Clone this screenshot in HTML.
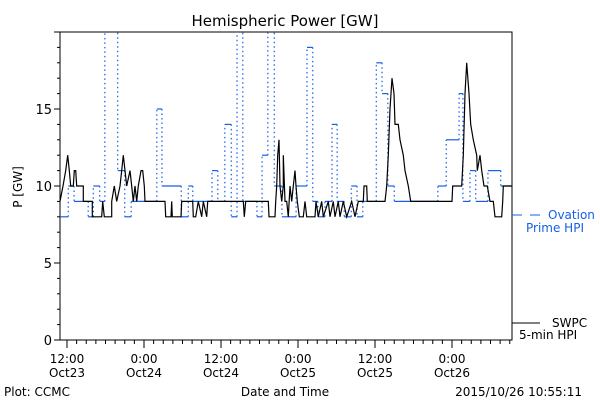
<!DOCTYPE html>
<html><head><meta charset="utf-8"><style>
body{margin:0;background:#fff;width:600px;height:400px;overflow:hidden}
svg{font-family:"DejaVu Sans","Liberation Sans",sans-serif}
</style></head><body>
<svg id="chart" width="600" height="400" viewBox="0 0 600 400" xmlns="http://www.w3.org/2000/svg">
<text x="285" y="26" font-size="15" text-anchor="middle">Hemispheric Power [GW]</text>
<text transform="translate(22,187) rotate(-90)" font-size="12" text-anchor="middle">P [GW]</text>
<text x="285" y="396" font-size="12" text-anchor="middle">Date and Time</text>
<text x="4" y="396" font-size="12">Plot: CCMC</text>
<text x="582" y="396" font-size="12" text-anchor="end">2015/10/26 10:55:11</text>
<g id="axes"></g>
<g id="series"></g>
<g>
<line x1="512" y1="215" x2="522" y2="215" stroke="#1560e8" stroke-width="1"/>
<line x1="530" y1="215" x2="540" y2="215" stroke="#1560e8" stroke-width="1"/>
<text x="548" y="219" font-size="12" fill="#1560e8">Ovation</text>
<text x="526" y="232" font-size="12" fill="#1560e8">Prime HPI</text>
</g>
<g>
<line x1="512" y1="323" x2="540" y2="323" stroke="#000" stroke-width="1"/>
<text x="552" y="327" font-size="12">SWPC</text>
<text x="519" y="339" font-size="12">5-min HPI</text>
</g>
</svg>
<script>
// time in hours since 2015-10-23 00:00
const xDomain = [10.91, 81.35];
const yDomain = [0, 20];
const yTicks = [0, 5, 10, 15];
const xTickHours = [12, 24, 36, 48, 60, 72];
const xTickLines1 = ["12:00", "0:00", "12:00", "0:00", "12:00", "0:00"];
const xTickLines2 = ["Oct23", "Oct24", "Oct24", "Oct25", "Oct25", "Oct26"];
const ovationTimes = [10.9,12.2,13.1,15.3,16.1,17.1,17.9,19.9,21.0,22.0,26.0,26.8,29.8,30.9,31.6,34.6,35.5,36.6,37.6,38.5,39.4,41.6,42.4,43.3,44.3,45.5,47.7,49.4,50.3,51.1,52.2,53.3,54.1,55.2,56.3,57.2,58.1,60.2,61.1,62.0,63.0,63.9,69.8,71.1,73.1,73.7,74.8,75.7,77.6,79.6];
const ovationValues = [8,10,9,8,10,9,22,11,8,9,15,10,8,10,9,11,9,14,8,22,9,8,12,22,10,8,10,19,9,8,9,14,9,8,10,8,9,18,16,10,9,9,10,13,16,9,11,9,11,10];
const swpcTimes = [10.91,11.38,11.80,12.11,12.36,12.58,12.98,13.14,13.36,13.51,14.54,14.54,15.94,15.94,17.41,17.56,17.81,18.97,18.97,19.37,19.75,20.26,20.52,20.77,21.04,21.30,21.82,22.08,22.33,22.60,22.86,23.11,23.53,23.80,24.05,24.16,27.27,27.38,28.21,28.32,28.41,29.77,29.88,31.59,31.68,32.06,32.46,32.99,33.24,33.77,33.93,39.47,39.63,39.85,43.37,43.48,44.41,44.52,44.68,44.83,45.04,45.19,45.46,45.71,45.71,45.97,46.24,46.49,46.75,47.02,47.26,47.53,47.69,47.89,48.20,48.82,49.09,49.35,50.65,50.80,51.16,51.69,51.94,52.72,52.98,53.50,53.76,54.28,54.54,55.06,55.59,56.37,56.88,57.40,58.18,58.28,58.71,58.80,61.56,61.82,62.07,62.34,62.65,62.96,63.11,63.63,63.89,64.41,64.67,65.19,65.56,72.00,72.11,73.51,73.76,74.02,74.29,74.65,74.91,75.32,75.85,75.94,76.36,76.63,76.98,77.50,77.92,78.43,78.70,79.74,79.90,79.99,81.35];
const swpcValues = [9,10,11,12,11,10,10,11,11,10,10,9,9,8,8,9,8,8,9,10,9,10,11,12,11,10,11,10,9,10,9,10,11,11,10,9,9,8,8,9,8,8,9,9,8,8,9,8,9,8,9,9,8,9,9,8,8,9,10,12,13,10,9,10,12,9,9,8,10,9,10,11,10,9,8,8,9,8,8,9,8,9,8,9,8,9,8,9,8,9,8,9,8,9,9,10,10,9,9,10,12,15,17,16,14,14,13,12,11,10,9,9,10,10,12,16,18,16,14,13,12,11,12,11,10,10,9,9,8,8,9,10,10];

const L=60,R=512,T=32,B=340;
const xs=t=>L+(t-xDomain[0])/(xDomain[1]-xDomain[0])*(R-L);
const ys=v=>B-(v-yDomain[0])/(yDomain[1]-yDomain[0])*(B-T);
const NS="http://www.w3.org/2000/svg";
function mk(tag,attrs,parent){const e=document.createElementNS(NS,tag);for(const k in attrs)e.setAttribute(k,attrs[k]);parent.appendChild(e);return e;}
const axes=document.getElementById('axes'), series=document.getElementById('series');

const frame=mk('rect',{x:L,y:T,width:R-L,height:B-T,fill:'none',stroke:'#000','stroke-width':1},axes);


for(let v=0;v<=20;v++){
  const tk=mk('line',{x1:L,x2:L-(v%5===0?6:3),y1:ys(v),y2:ys(v),stroke:'#000'},axes);
  
  
}
yTicks.forEach(v=>{
  const tx=mk('text',{x:L-8,y:ys(v)+5,'font-size':13,'text-anchor':'end'},axes);
  tx.textContent=v;
  
  
});
for(let h=Math.ceil(xDomain[0]/1.5)*1.5;h<=xDomain[1];h+=1.5){
  const major=Math.abs(h%12)<1e-6;
  const tk=mk('line',{x1:xs(h),x2:xs(h),y1:B,y2:B+(major?8:4),stroke:'#000'},axes);
  
  
}
xTickHours.forEach((h,i)=>{
  const t1=mk('text',{x:xs(h),y:363,'font-size':12,'text-anchor':'middle'},axes);
  t1.textContent=xTickLines1[i];
  
  
  const t2=mk('text',{x:xs(h),y:377,'font-size':12,'text-anchor':'middle'},axes);
  t2.textContent=xTickLines2[i];
  
  
});

const clip=mk('clipPath',{id:'pc'},series);
mk('rect',{x:L,y:T,width:R-L,height:B-T},clip);
const g=mk('g',{'clip-path':'url(#pc)'},series);

for(let i=0;i<ovationTimes.length;i++){
  const x1=xs(ovationTimes[i]);
  const x2=xs(i+1<ovationTimes.length?ovationTimes[i+1]:xDomain[1]);
  const y=ys(ovationValues[i]);
  const h=mk('line',{x1:x1,x2:x2,y1:y,y2:y,stroke:'#1560e8','stroke-width':1.2},g);
  
  
  if(i+1<ovationTimes.length){
    const v=mk('line',{x1:x2,x2:x2,y1:y,y2:ys(ovationValues[i+1]),stroke:'#1560e8','stroke-width':1.2,'stroke-dasharray':'1.5,3'},g);
    
    
  }
}
const pts=swpcTimes.map((t,i)=>xs(t).toFixed(1)+','+ys(swpcValues[i]).toFixed(1)).join(' ');
const pl=mk('polyline',{points:pts,fill:'none',stroke:'#000','stroke-width':1.2},g);


</script>
</body></html>
